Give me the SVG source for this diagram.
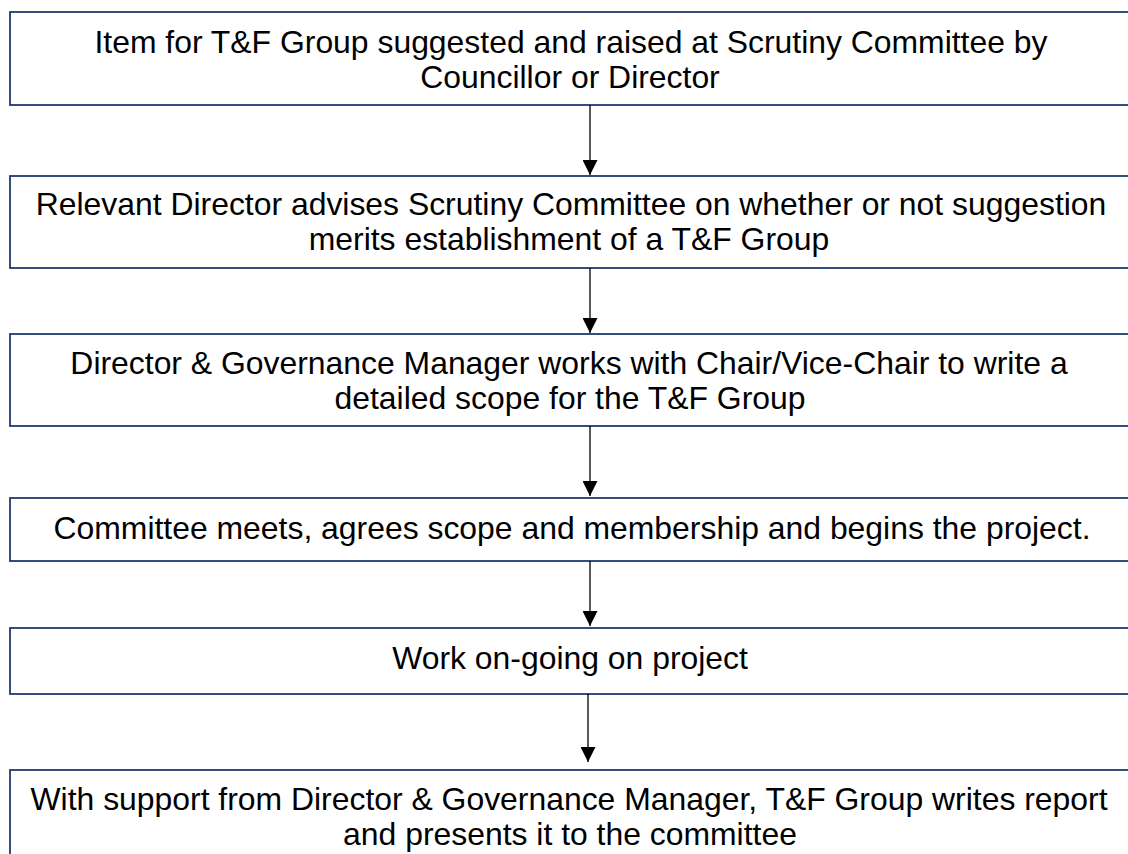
<svg xmlns="http://www.w3.org/2000/svg" width="1128" height="854" viewBox="0 0 1128 854">
<defs>
<style>
.box{fill:#ffffff;stroke:#1F3A6E;stroke-width:1.8}
.t{font-family:"Liberation Sans",Arial,sans-serif;font-size:31.9px;fill:#000000;text-anchor:middle}
.c{stroke:#000000;stroke-width:1.3;fill:none}
</style>
<marker id="ah" viewBox="0 0 10 10" refX="10" refY="5" markerUnits="userSpaceOnUse" markerWidth="15" markerHeight="15" orient="auto">
<path d="M0,0 L10,5 L0,10 Z" fill="#000000"/>
</marker>
</defs>
<rect width="1128" height="854" fill="#ffffff"/>
<g id="n1">
<rect class="box" x="10" y="12" width="1130" height="93"/>
<text class="t" x="571" y="53">Item for T&amp;F Group suggested and raised at Scrutiny Committee by</text>
<text class="t" x="570" y="88">Councillor or Director</text>
</g>
<g id="n2">
<rect class="box" x="10" y="176" width="1130" height="92"/>
<text class="t" x="571" y="215">Relevant Director advises Scrutiny Committee on whether or not suggestion</text>
<text class="t" x="569" y="250">merits establishment of a T&amp;F Group</text>
</g>
<g id="n3">
<rect class="box" x="10" y="334" width="1130" height="92"/>
<text class="t" x="569" y="374">Director &amp; Governance Manager works with Chair/Vice-Chair to write a</text>
<text class="t" x="570" y="409">detailed scope for the T&amp;F Group</text>
</g>
<g id="n4">
<rect class="box" x="10" y="498" width="1130" height="63"/>
<text class="t" x="572" y="539">Committee meets, agrees scope and membership and begins the project.</text>
</g>
<g id="n5">
<rect class="box" x="10" y="628" width="1130" height="66"/>
<text class="t" x="570" y="669">Work on-going on project</text>
</g>
<g id="n6">
<rect class="box" x="10" y="770" width="1130" height="100"/>
<text class="t" x="569" y="810">With support from Director &amp; Governance Manager, T&amp;F Group writes report</text>
<text class="t" x="570" y="845">and presents it to the committee</text>
</g>
<g id="connectors">
<line class="c" x1="590" y1="105" x2="590" y2="175" marker-end="url(#ah)"/>
<line class="c" x1="590" y1="268" x2="590" y2="333" marker-end="url(#ah)"/>
<line class="c" x1="590" y1="426" x2="590" y2="496" marker-end="url(#ah)"/>
<line class="c" x1="590" y1="561" x2="590" y2="626" marker-end="url(#ah)"/>
<line class="c" x1="588" y1="694" x2="588" y2="762" marker-end="url(#ah)"/>
</g>
</svg>
